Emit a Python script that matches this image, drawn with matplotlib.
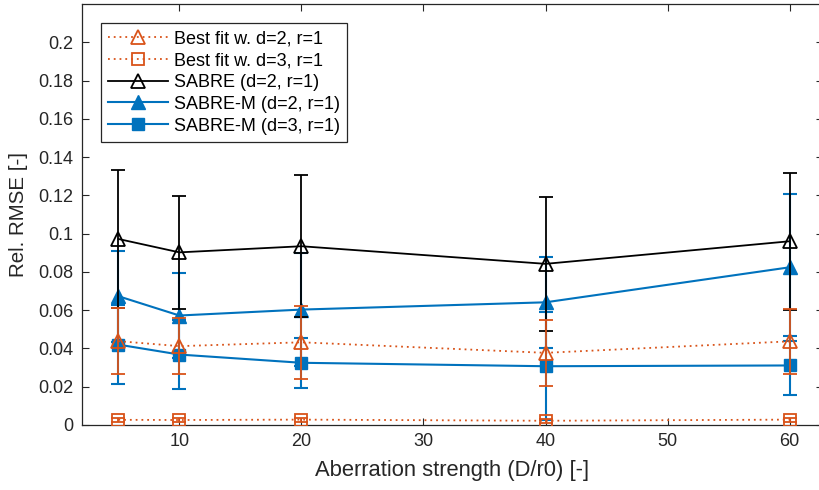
import matplotlib
matplotlib.use("Agg")
import matplotlib.pyplot as plt
from matplotlib.lines import Line2D

plt.rcParams['font.family'] = ['Liberation Sans', 'DejaVu Sans']

# Aberration strengths (D/r0)
strength = [5, 10, 20, 40, 60]

# Relative RMSE, mean and standard deviation per method
best_d2 = [0.0438, 0.0412, 0.0432, 0.0377, 0.0437]
best_d2_err = [0.0172, 0.0146, 0.0190, 0.0174, 0.0170]
best_d3 = [0.0027, 0.0026, 0.0028, 0.0022, 0.0028]
best_d3_err = [0.0010, 0.0010, 0.0010, 0.0010, 0.0010]
sabre = [0.0972, 0.0902, 0.0934, 0.0842, 0.0960]
sabre_err = [0.0360, 0.0295, 0.0370, 0.0350, 0.0357]
sabre_m_d2 = [0.0673, 0.0572, 0.0603, 0.0641, 0.0824]
sabre_m_d2_err = [0.0238, 0.0223, 0.0296, 0.0237, 0.0385]
sabre_m_d3 = [0.0420, 0.0368, 0.0325, 0.0307, 0.0311]
sabre_m_d3_err = [0.0207, 0.0180, 0.0130, 0.0282, 0.0152]

labels = ['Best fit w. d=2, r=1', 'Best fit w. d=3, r=1', 'SABRE (d=2, r=1)',
          'SABRE-M (d=2, r=1)', 'SABRE-M (d=3, r=1)']
xticks = [10, 20, 30, 40, 50, 60]
yticks = [0, 0.02, 0.04, 0.06, 0.08, 0.1, 0.12, 0.14, 0.16, 0.18, 0.2]
ytick_labels = ['0', '0.02', '0.04', '0.06', '0.08', '0.1', '0.12', '0.14', '0.16', '0.18', '0.2']

BLUE = '#0072BD'
ORANGE = '#D95319'
AXC = '#262626'
DOT = (0, (1, 2.2))

fig = plt.figure(figsize=(8.19, 4.90), dpi=100)
ax = fig.add_axes([0.0998, 0.1327, 0.9046, 0.8592])

cap = 5.2
h = {}
h[3] = ax.errorbar(strength, sabre_m_d2, yerr=sabre_m_d2_err, color=BLUE, lw=1.5,
                   marker='^', ms=9.5, mfc=BLUE, mec=BLUE, capsize=cap, capthick=1.5,
                   elinewidth=1.5, zorder=3)
h[4] = ax.errorbar(strength, sabre_m_d3, yerr=sabre_m_d3_err, color=BLUE, lw=1.5,
                   marker='s', ms=8, mfc=BLUE, mec=BLUE, capsize=cap, capthick=1.5,
                   elinewidth=1.5, zorder=3)
h[2] = ax.errorbar(strength, sabre, yerr=sabre_err, color='black', lw=1.3,
                   marker='^', ms=10, mfc='none', mec='black', mew=1.3, capsize=cap,
                   capthick=1.3, elinewidth=1.3, zorder=4)
h[0] = ax.errorbar(strength, best_d2, yerr=best_d2_err, color=ORANGE, lw=1.3,
                   ls=DOT, marker='^', ms=10, mfc='none', mec=ORANGE, mew=1.3,
                   capsize=cap, capthick=1.3, elinewidth=1.3, zorder=5)
h[1] = ax.errorbar(strength, best_d3, yerr=best_d3_err, color=ORANGE, lw=1.3,
                   ls=DOT, marker='s', ms=8, mfc='none', mec=ORANGE, mew=1.3,
                   capsize=cap, capthick=1.3, elinewidth=1.3, zorder=5)
for k in (0, 1):
    for bar in h[k][2]:
        bar.set_linestyle('-')

ax.set_xlim(2, 62.7)
ax.set_ylim(0, 0.22)
ax.set_xticks(xticks)
ax.set_xticklabels([str(t) for t in xticks])
ax.set_yticks(yticks)
ax.set_yticklabels(ytick_labels)

ax.tick_params(direction='in', length=5, width=0.8, colors=AXC, labelsize=13,
               top=True, right=True, pad=6)
for s in ax.spines.values():
    s.set_color(AXC)
    s.set_linewidth(0.9)

ax.set_xlabel('Aberration strength (D/r0) [-]', fontsize=15.8, color=AXC, labelpad=7)
ax.set_ylabel('Rel. RMSE [-]', fontsize=14.8, color=AXC, labelpad=7)

# Legend with plain line + marker handles
handles = [
    Line2D([], [], color=ORANGE, lw=1.3, ls=DOT, marker='^', ms=10,
           mfc='none', mec=ORANGE, mew=1.3),
    Line2D([], [], color=ORANGE, lw=1.3, ls=DOT, marker='s', ms=8,
           mfc='none', mec=ORANGE, mew=1.3),
    Line2D([], [], color='black', lw=1.3, marker='^', ms=10, mfc='none', mec='black', mew=1.3),
    Line2D([], [], color=BLUE, lw=1.5, marker='^', ms=9.5, mfc=BLUE, mec=BLUE),
    Line2D([], [], color=BLUE, lw=1.5, marker='s', ms=8, mfc=BLUE, mec=BLUE),
]
leg = ax.legend(handles, labels, loc='upper left', bbox_to_anchor=(0.026, 0.955),
                fontsize=13, frameon=True, fancybox=False, framealpha=1,
                edgecolor=AXC, handlelength=3.3, handletextpad=0.35,
                labelspacing=0.27, borderpad=0.4, borderaxespad=0)
leg.get_frame().set_linewidth(0.9)
for t in leg.get_texts():
    t.set_color('black')

fig.savefig('out.png', dpi=100)
